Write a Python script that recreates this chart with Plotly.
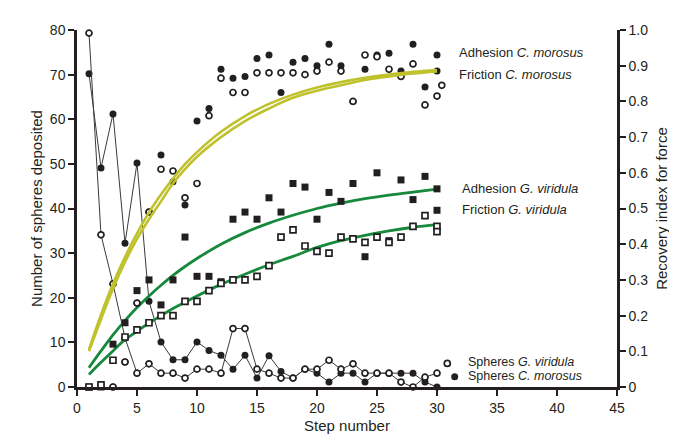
import plotly.graph_objects as go

steps = list(range(1, 31))

# Spheres deposited (left axis)
spheres_g_viridula = [79.3, 34.1, 23.1, 11, 3.1, 5.2, 3.1, 3.1, 2, 4, 4, 3.1, 13.1, 13.1, 4,
                      3.1, 2, 2, 4, 4, 6, 4, 5.2, 3.1, 3.1, 3.1, 1.1, 0, 2.2, 3.1]
spheres_c_morosus = [70.2, 49.1, 61.2, 32.2, 50.2, 19.2, 10.1, 6.1, 6.1, 10.1, 8.2, 7.1, 4, 7.1, 2,
                     7, 3.5, 2, 4, 3.1, 1.1, 3.1, 3.1, 1.1, 3.1, 3.1, 3.1, 3.1, 1.1, 0]

# Recovery index (right axis)
cm_adh_steps = [3, 4, 5, 6, 7, 8, 9, 10, 11, 12, 13, 14, 15, 16, 17, 18, 19, 20, 21, 22, 23, 24,
                25, 26, 27, 28, 29, 30, 30]
cm_adh = [0.0, 0.07, 0.235, 0.49, 0.65, 0.575, 0.51, 0.745, 0.78, 0.89, 0.865, 0.87, 0.92, 0.93,
          0.825, 0.91, 0.92, 0.90, 0.96, 0.90, 0.80, 0.89, 0.93, 0.935, 0.885, 0.96, 0.84, 0.93, 0.885]
cm_fric_steps = [3, 4, 5, 6, 7, 8, 9, 10, 11, 12, 13, 14, 15, 16, 17, 18, 19, 20, 21, 22, 23, 24,
                 25, 26, 27, 28, 29, 30, 30.4]
cm_fric = [0.0, 0.07, 0.235, 0.49, 0.61, 0.605, 0.53, 0.57, 0.76, 0.865, 0.825, 0.825, 0.88, 0.88,
           0.88, 0.88, 0.875, 0.885, 0.91, 0.885, 0.80, 0.93, 0.925, 0.89, 0.87, 0.905, 0.79, 0.815, 0.845]
gv_steps = list(range(1, 31)) + [30]
gv_adh = [0.0, 0.0, 0.12, 0.18, 0.27, 0.30, 0.23, 0.30, 0.42, 0.31, 0.31, 0.295, 0.47, 0.49, 0.47,
          0.53, 0.49, 0.57, 0.56, 0.47, 0.545, 0.52, 0.57, 0.365, 0.60, 0.41, 0.58, 0.525, 0.59, 0.555, 0.495]
gv_fric = [0.0, 0.006, 0.075, 0.14, 0.16, 0.18, 0.20, 0.20, 0.24, 0.24, 0.27, 0.29, 0.30, 0.30, 0.31,
           0.34, 0.42, 0.44, 0.395, 0.38, 0.375, 0.42, 0.415, 0.405, 0.42, 0.405, 0.42, 0.45, 0.48, 0.45, 0.435]

# Fitted curves
fit_steps = [1, 2, 3, 4, 5, 6, 7, 8, 9, 10, 12, 14, 16, 18, 20, 22, 24, 26, 28, 30]
fit_cm_adh = [0.105, 0.2025, 0.289, 0.364, 0.43, 0.489, 0.539, 0.584, 0.624, 0.658, 0.715, 0.759,
              0.793, 0.819, 0.839, 0.854, 0.866, 0.875, 0.883, 0.888]
fit_cm_fric = [0.10, 0.19, 0.275, 0.35, 0.415, 0.47, 0.52, 0.57, 0.61, 0.645, 0.70, 0.745, 0.78,
               0.81, 0.83, 0.845, 0.86, 0.87, 0.878, 0.884]
fit_gv_adh = [0.054, 0.101, 0.146, 0.186, 0.2225, 0.255, 0.285, 0.3125, 0.3375, 0.36, 0.40, 0.4325,
              0.459, 0.481, 0.50, 0.515, 0.5275, 0.5375, 0.546, 0.554]
fit_gv_fric = [0.035, 0.069, 0.101, 0.1325, 0.156, 0.179, 0.20, 0.22, 0.2375, 0.255, 0.2875, 0.316,
               0.3425, 0.366, 0.391, 0.41, 0.425, 0.4375, 0.4475, 0.455]

x_ticks = list(range(0, 50, 5))
y_ticks = list(range(0, 90, 10))
y2_ticks = [i / 10 for i in range(0, 11)]
y2_text = ["0"] + [f"{v:.1f}" for v in y2_ticks[1:]]

BLACK = "#231f20"
GREEN = "#17893d"
YELLOW = "#bfc22d"
FONT = "Liberation Sans"

fig = go.Figure()

def sq(x, y, filled):
    return go.Scatter(x=x, y=y, yaxis="y2", mode="markers", cliponaxis=False, showlegend=False,
                      marker=dict(symbol="square", size=7 if filled else 6,
                                  color=BLACK if filled else "white",
                                  line=dict(color=BLACK, width=0 if filled else 1.7)))

def circ(x, y, filled, yaxis="y2"):
    return go.Scatter(x=x, y=y, yaxis=yaxis, mode="markers", cliponaxis=False, showlegend=False,
                      marker=dict(symbol="circle", size=7 if filled else 6,
                                  color=BLACK if filled else "white",
                                  line=dict(color=BLACK, width=0 if filled else 1.7)))

# green fits
fig.add_trace(go.Scatter(x=fit_steps, y=fit_gv_adh, yaxis="y2", mode="lines", line_shape="spline",
                         line=dict(color=GREEN, width=2.8), showlegend=False))
fig.add_trace(go.Scatter(x=fit_steps, y=fit_gv_fric, yaxis="y2", mode="lines", line_shape="spline",
                         line=dict(color=GREEN, width=2.8), showlegend=False))
# squares
fig.add_trace(sq(gv_steps, gv_adh, True))
fig.add_trace(sq(gv_steps, gv_fric, False))
# C. morosus recovery circles
fig.add_trace(circ(cm_adh_steps, cm_adh, True))
fig.add_trace(circ(cm_fric_steps, cm_fric, False))
# spheres lines
fig.add_trace(go.Scatter(x=steps, y=spheres_c_morosus, mode="lines+markers", cliponaxis=False,
                         line=dict(color="#3a3a3a", width=1), showlegend=False,
                         marker=dict(symbol="circle", size=7, color=BLACK)))
fig.add_trace(go.Scatter(x=steps, y=spheres_g_viridula, mode="lines+markers", cliponaxis=False,
                         line=dict(color="#3a3a3a", width=1), showlegend=False,
                         marker=dict(symbol="circle", size=6, color="white",
                                     line=dict(color=BLACK, width=1.7))))
# yellow fits
fig.add_trace(go.Scatter(x=fit_steps, y=fit_cm_adh, yaxis="y2", mode="lines", line_shape="spline",
                         line=dict(color=YELLOW, width=2.6), showlegend=False))
fig.add_trace(go.Scatter(x=fit_steps, y=fit_cm_fric, yaxis="y2", mode="lines", line_shape="spline",
                         line=dict(color=YELLOW, width=2.6), showlegend=False))

ann_font = dict(family=FONT, size=13, color=BLACK)
leg_font = dict(family=FONT, size=12.5, color=BLACK)
annotations = [
    dict(text="Adhesion <i>C. morosus</i>", x=0.7037, y=0.9356, font=ann_font),
    dict(text="Friction <i>C. morosus</i>", x=0.7037, y=0.8748, font=ann_font),
    dict(text="Adhesion <i>G. viridula</i>", x=0.7093, y=0.5574, font=ann_font),
    dict(text="Friction <i>G. viridula</i>", x=0.7093, y=0.4966, font=ann_font),
    dict(text="Spheres <i>G. viridula</i>", x=0.7204, y=0.0700, font=leg_font),
    dict(text="Spheres <i>C. morosus</i>", x=0.7204, y=0.0308, font=leg_font),
]
for a in annotations:
    a.update(xref="paper", yref="paper", xanchor="left", yanchor="middle", showarrow=False)

shapes = [
    dict(type="circle", xref="paper", yref="paper", xsizemode="pixel", ysizemode="pixel",
         xanchor=0.6857, yanchor=0.0660, x0=-3, x1=3, y0=-3, y1=3,
         line=dict(color=BLACK, width=1.7), fillcolor="white"),
    dict(type="circle", xref="paper", yref="paper", xsizemode="pixel", ysizemode="pixel",
         xanchor=0.6994, yanchor=0.0290, x0=-3.5, x1=3.5, y0=-3.5, y1=3.5,
         line=dict(color=BLACK, width=0), fillcolor=BLACK),
]

axis_common = dict(showline=True, linewidth=2.5, linecolor=BLACK, ticks="outside", ticklen=6,
                   tickwidth=2, tickcolor=BLACK, showgrid=False, zeroline=False, automargin=False,
                   tickfont=dict(family=FONT, size=14, color=BLACK))

fig.update_layout(
    width=677, height=437,
    margin=dict(l=69, r=68, t=22, b=58, autoexpand=False),
    paper_bgcolor="white", plot_bgcolor="white",
    font=dict(family=FONT, color=BLACK),
    xaxis=dict(range=[0, 45], tickvals=x_ticks,
               title=dict(text="Step number", font=dict(family=FONT, size=15, color=BLACK), standoff=6),
               **axis_common),
    yaxis=dict(range=[0, 80], tickvals=y_ticks,
               title=dict(text="Number of spheres deposited", font=dict(family=FONT, size=15, color=BLACK),
                          standoff=4),
               **axis_common),
    yaxis2=dict(range=[0, 1], overlaying="y", side="right", tickvals=y2_ticks, ticktext=y2_text,
                title=dict(text="Recovery index for force", font=dict(family=FONT, size=15, color=BLACK),
                           standoff=10),
                **axis_common),
    annotations=annotations,
    shapes=shapes,
)

fig.write_html("out.html")
